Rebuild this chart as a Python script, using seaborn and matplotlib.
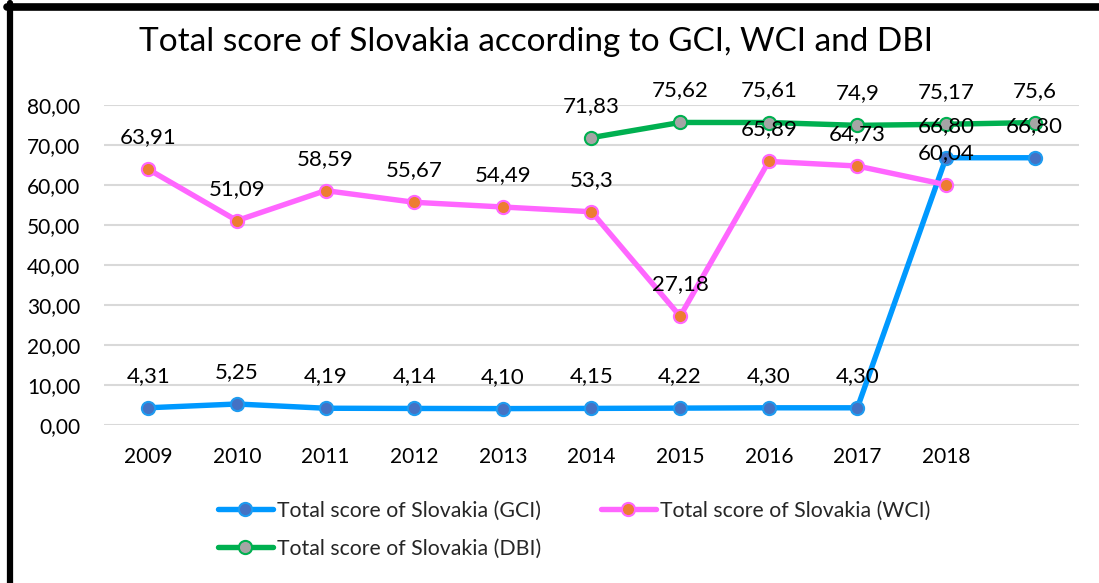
#
########################################################################
# Bibliotecas
########################################################################
#
import numpy as np
import pandas as pd
import matplotlib
matplotlib.use("Agg")
import matplotlib.pyplot as plt
from matplotlib.lines import Line2D
import seaborn as sns

#
########################################################################
# Dados
########################################################################
#
anos = ["2009", "2010", "2011", "2012", "2013", "2014", "2015", "2016", "2017", "2018", ""]
gci = [4.31, 5.25, 4.19, 4.14, 4.10, 4.15, 4.22, 4.30, 4.30, 66.80, 66.80]
wci = [63.91, 51.09, 58.59, 55.67, 54.49, 53.3, 27.18, 65.89, 64.73, 60.04, np.nan]
dbi = [np.nan, np.nan, np.nan, np.nan, np.nan, 71.83, 75.62, 75.61, 74.9, 75.17, 75.6]

nomes = ["Total score of Slovakia (GCI)", "Total score of Slovakia (WCI)",
         "Total score of Slovakia (DBI)"]

#
########################################################################
# Estilo
########################################################################
#
sns.set_theme(style="white")
plt.rcParams["font.family"] = ["Lato", "DejaVu Sans"]

estilos = [
    dict(cor="#0099FF", face="#4472C4", borda="#1E9BF0", fmt="{:.2f}"),
    dict(cor="#FF66FF", face="#ED7D31", borda="#FF66FF", fmt="{:g}"),
    dict(cor="#00B050", face="#A5A5A5", borda="#00B050", fmt="{:g}"),
]

pos = np.arange(len(anos))

Grafico = plt.figure(figsize=(10.99, 5.83), dpi=100)
ax = Grafico.add_axes([0.0946, 0.271, 0.8872, 0.549])

for nome, serie, st in zip(nomes, [gci, wci, dbi], estilos):
    df = pd.DataFrame({"x": pos, "y": serie}).dropna()
    sns.lineplot(data=df, x="x", y="y", ax=ax, color=st["cor"], linewidth=3.9,
                 marker="o", markersize=9.5, markerfacecolor=st["face"],
                 markeredgecolor=st["borda"], markeredgewidth=1.5, label=nome,
                 legend=False, clip_on=False, zorder=3)
    for xv, yv in zip(df["x"], df["y"]):
        txt = st["fmt"].format(yv).replace(".", ",")
        ax.annotate(txt, (xv, yv), xytext=(0, 23), textcoords="offset points",
                    ha="center", va="center", fontsize=16, color="black",
                    annotation_clip=False, zorder=4)

ax.set_xlim(-0.5, len(anos) - 0.5)
ax.set_ylim(0, 80)
ax.set_yticks(np.arange(0, 81, 10))
ax.set_yticklabels([f"{v:.2f}".replace(".", ",") for v in np.arange(0, 81, 10)])
ax.set_xticks(pos)
ax.set_xticklabels(anos)
ax.tick_params(axis="both", length=0, labelsize=15, colors="black")
ax.tick_params(axis="y", pad=17)
ax.tick_params(axis="x", pad=16)
ax.set_xlabel("")
ax.set_ylabel("")
ax.grid(axis="y", color="#D9D9D9", linewidth=1.5)
ax.set_axisbelow(True)
for s in ax.spines.values():
    s.set_visible(False)

Grafico.text(0.488, 0.928, "Total score of Slovakia according to GCI, WCI and DBI",
             ha="center", va="center", fontsize=24, color="black")

# ordem por linhas: GCI, WCI na primeira; DBI na segunda
handles, labels = ax.get_legend_handles_labels()
ordem = [0, 2, 1]
Grafico.legend([handles[i] for i in ordem], [labels[i] for i in ordem],
               loc="upper left", bbox_to_anchor=(0.198, 0.141),
               ncol=2, frameon=False, fontsize=15.3, handlelength=2.6,
               handletextpad=0.2, columnspacing=2.8, labelspacing=0.85,
               borderaxespad=0, borderpad=0)

# moldura preta (esquerda e topo)
Grafico.add_artist(Line2D([10 / 1099, 10 / 1099], [0, 1 - 3 / 583], color="black",
                          linewidth=4.5, transform=Grafico.transFigure))
Grafico.add_artist(Line2D([7 / 1099, 1], [1 - 7 / 583, 1 - 7 / 583], color="black",
                          linewidth=5.5, transform=Grafico.transFigure))

Grafico.savefig("out.png", dpi=100)
